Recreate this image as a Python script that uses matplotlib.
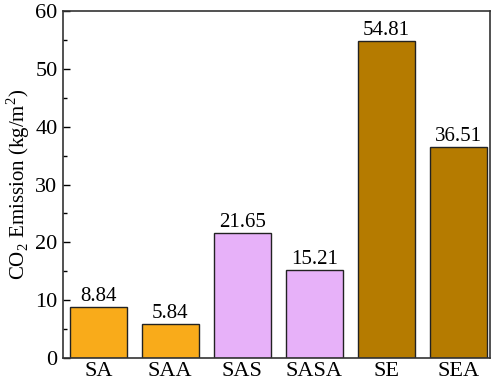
import numpy as np
import matplotlib.pyplot as plt

plt.rcParams['font.family'] = ['Liberation Serif', 'DejaVu Serif']
plt.rcParams['mathtext.fontset'] = 'custom'
plt.rcParams['mathtext.rm'] = 'Liberation Serif'

labels = ["SA", "SAA", "SAS", "SASA", "SE", "SEA"]
values = [8.84, 5.84, 21.65, 15.21, 54.81, 36.51]
colors = ["#F9AB1A", "#F9AB1A", "#E7B1F9", "#E7B1F9", "#B57B00", "#B57B00"]


def run():
    fig = plt.figure(figsize=(4.98, 3.82), dpi=100)
    ax = fig.add_axes([0.1265, 0.0628, 0.8575, 0.9082])
    x = np.arange(len(labels))
    bars = ax.bar(x, values, width=0.79, color=colors, edgecolor="#222222", linewidth=1.0)
    for b, v in zip(bars, values):
        ax.text(b.get_x() + b.get_width() / 2, v + 0.2, "%.2f" % v,
                ha="center", va="bottom", fontsize=15)
    ax.set_xlim(-0.49, 5.44)
    ax.set_ylim(0, 60)
    ax.set_xticks(x)
    ax.set_xticklabels(labels)
    ax.set_yticks(np.arange(0, 61, 10))
    ax.set_yticks(np.arange(5, 60, 10), minor=True)
    ax.tick_params(axis="y", which="both", direction="in", labelsize=16, right=False, pad=4)
    ax.tick_params(axis="y", which="major", length=5, width=1)
    ax.tick_params(axis="y", which="minor", length=3, width=1)
    ax.tick_params(axis="x", length=0, labelsize=16, pad=3)
    for s in ax.spines.values():
        s.set_linewidth(1.2)
        s.set_color("#333333")
    ax.set_ylabel(r"CO$_2$ Emission (kg/m$^2$)", fontsize=15, labelpad=2)
    fig.savefig("out.png", dpi=100)


if __name__ == "__main__":
    run()
